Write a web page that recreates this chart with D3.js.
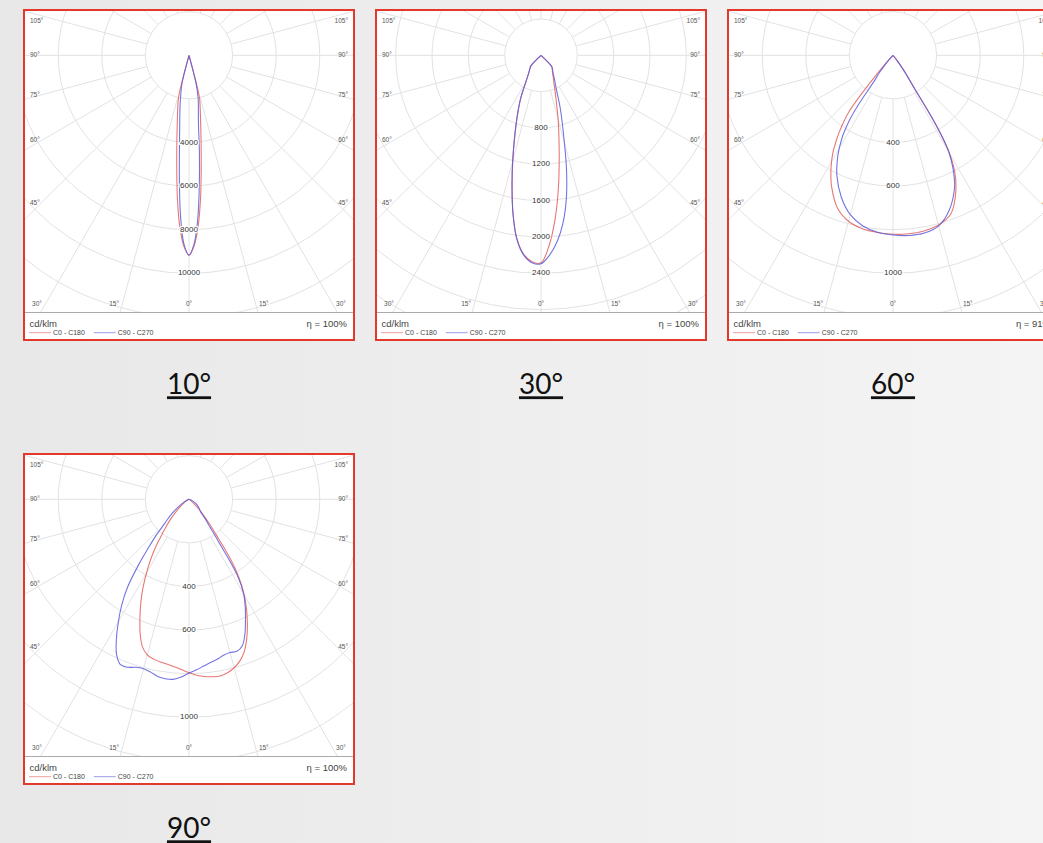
<!DOCTYPE html>
<html>
<head>
<meta charset="utf-8">
<script src="https://cdn.jsdelivr.net/npm/d3@7"></script>
<style>
  html, body { margin: 0; padding: 0; overflow: hidden; }
  body { width: 1043px; height: 843px; background: linear-gradient(to right, #e8e8e8, #f4f4f4); }
  svg { display: block; }
</style>
</head>
<body>
<svg width="1043" height="843"></svg>
<script>
// diagram titles, ring step (cd/klm) and efficiency
var titles = ["10°", "30°", "60°", "90°"];
var ringSteps = [2000, 400, 200, 200];
var efficiency = ["100%", "100%", "91%", "100%"];
var seriesNames = ["C0 - C180", "C90 - C270"];
var sideTicks = [105, 90, 75, 60, 45];
var bottomTicks = [-30, -15, 0, 15, 30];

// 10° beam : gamma angle (deg) -> intensity (cd/klm)
var gamma10 = [0, 1.5, 3, 4.5, 6, 8, 10, 12, 14, 15];
var c0_10   = [9170, 8760, 7900, 6680, 5350, 3980, 3060, 2460, 1960, 0];
var c180_10 = [9170, 8780, 7930, 6700, 5370, 4000, 3080, 2480, 1960, 0];
var c90_10  = [9170, 8680, 7580, 6020, 4590, 3110, 2480, 2020, 1330, 0];
var c270_10 = [9170, 8680, 7400, 5630, 4170, 3050, 2360, 1800, 1330, 0];

// 30° beam
var gamma30 = [0, 2.5, 5, 7.5, 10, 12.5, 15, 20, 25, 30, 35, 40, 44, 46];
var c0_30   = [2285, 2090, 1800, 1470, 1155, 910, 730, 470, 338, 266, 219, 192, 166, 0];
var c180_30 = [2285, 2275, 2197, 2035, 1772, 1470, 1200, 795, 535, 325, 232, 190, 158, 0];
var c90_30  = [2295, 2200, 2055, 1860, 1605, 1300, 995, 620, 390, 292, 230, 195, 168, 0];
var c270_30 = [2295, 2285, 2205, 2040, 1775, 1475, 1205, 800, 538, 328, 234, 190, 158, 0];

// 60° beam
var gamma60 = [0, 5, 10, 15, 20, 25, 28, 30, 31, 32, 33, 34, 35, 36, 38, 40, 42, 44];
var c0_60   = [821, 822, 818, 806, 775, 683, 602, 515, 444, 334, 176, 131, 102, 74, 35, 10, 0, 0];
var c180_60 = [821, 816, 808, 788, 745, 666, 607, 564, 541, 517, 488, 459, 429, 397, 326, 156, 45, 0];
var c90_60  = [824, 830, 828, 810, 755, 668, 585, 512, 444, 334, 176, 131, 102, 74, 35, 10, 0, 0];
var c270_60 = [824, 815, 795, 757, 693, 609, 544, 494, 464, 435, 395, 351, 277, 148, 102, 60, 25, 0];

// 90° beam
var gamma90 = [0, 2.5, 5, 7.5, 10, 12.5, 15, 17.5, 20, 22.5, 25, 27.5, 30, 32.5, 35, 37.5, 40, 42.5, 45, 50, 55, 60, 70, 90];
var c0_90   = [795, 808, 816, 821, 823, 815, 800, 777, 742, 692, 634, 572, 507, 428, 322, 203, 142, 96, 69, 25, 12, 6, 2, 0];
var c180_90 = [795, 782, 771, 763, 758, 751, 739, 710, 655, 588, 523, 457, 389, 327, 266, 205, 163, 128, 96, 51, 25, 12, 3, 0];
var c90_90  = [797, 783, 768, 755, 745, 733, 728, 731, 715, 670, 613, 559, 501, 411, 231, 149, 114, 78, 71, 58, 45, 31, 10, 0];
var c270_90 = [797, 816, 829, 830, 825, 812, 805, 808, 820, 821, 786, 721, 648, 574, 490, 382, 287, 220, 161, 104, 55, 30, 8, 0];

var diagrams = [
  {gamma: gamma10, c0: c0_10, c180: c180_10, c90: c90_10, c270: c270_10},
  {gamma: gamma30, c0: c0_30, c180: c180_30, c90: c90_30, c270: c270_30},
  {gamma: gamma60, c0: c0_60, c180: c180_60, c90: c90_60, c270: c270_60},
  {gamma: gamma90, c0: c0_90, c180: c180_90, c90: c90_90, c270: c270_90}
];

var svg = d3.select("svg");
var colRed = "#e2605c", colBlue = "#5c5cdc";
var rad = Math.PI / 180;
var smallFont = "'Liberation Sans', Arial, sans-serif";

// one half of a curve, stops at the first zero (the origin)
function half(gamma, vals, sign) {
  var pts = [];
  for (var k = 0; k < gamma.length; k++) {
    pts.push({a: Math.PI - sign * gamma[k] * rad, v: vals[k]});
    if (vals[k] === 0) break;
  }
  return pts;
}

diagrams.forEach(function(d, i) {
  var px = 24 + (i % 3) * 352, py = 10 + Math.floor(i / 3) * 444;
  var cx = px + 165, cy = py + 45.3;
  var axisY = py + 302.5;
  var step = ringSteps[i];
  var maxV = d3.max([].concat(d.c0, d.c180, d.c90, d.c270));
  var nRings = Math.ceil(maxV / step);
  var r = d3.scaleLinear().domain([0, nRings * step]).range([0, 218]);

  var g = svg.append("g");

  g.append("rect")
    .attr("x", px).attr("y", py)
    .attr("width", 330).attr("height", 330)
    .attr("fill", "#fff");

  g.append("clipPath").attr("id", "clip" + i)
    .append("rect")
      .attr("x", px + 1).attr("y", py + 1)
      .attr("width", 328).attr("height", axisY - py - 1);

  var plot = g.append("g").attr("clip-path", "url(#clip" + i + ")");

  // rings
  plot.selectAll("circle")
    .data(d3.range(1, nRings + 5).map(function(k) { return k * step; }))
    .enter().append("circle")
      .attr("cx", cx).attr("cy", cy)
      .attr("r", function(v) { return r(v); })
      .attr("fill", "none")
      .attr("stroke", "#e2e2e2")
      .attr("stroke-width", 1);

  // spokes every 15°
  plot.selectAll("line.spoke")
    .data(d3.range(0, 360, 15))
    .enter().append("line")
      .attr("class", "spoke")
      .attr("x1", function(a) { return cx + r(step) * Math.sin(a * rad); })
      .attr("y1", function(a) { return cy + r(step) * Math.cos(a * rad); })
      .attr("x2", function(a) { return cx + 600 * Math.sin(a * rad); })
      .attr("y2", function(a) { return cy + 600 * Math.cos(a * rad); })
      .attr("stroke", "#e2e2e2")
      .attr("stroke-width", 1);

  // curves
  var line = d3.lineRadial()
    .angle(function(p) { return p.a; })
    .radius(function(p) { return r(p.v); })
    .curve(d3.curveCatmullRom.alpha(0.5));

  var curves = [
    {left: d.c180, right: d.c0, color: colRed},
    {left: d.c270, right: d.c90, color: colBlue}
  ];
  curves.forEach(function(c) {
    var pts = half(d.gamma, c.left, -1).reverse()
      .concat(half(d.gamma, c.right, 1).slice(1));
    plot.append("path")
      .attr("transform", "translate(" + cx + "," + cy + ")")
      .attr("d", line(pts))
      .attr("fill", "none")
      .attr("stroke", c.color)
      .attr("stroke-opacity", 0.85)
      .attr("stroke-width", 1.1);
  });

  // ring labels along 0°, hidden where the curve sits on them
  var tips = [r(d.c0[0]), r(d.c90[0])];
  var labelled = d3.range(2, nRings + 5).map(function(k) { return k * step; })
    .filter(function(v) {
      return r(v) < axisY - cy - 8 &&
        tips.every(function(t) { return Math.abs(t - r(v)) > 8; });
    });
  g.selectAll("text.ring")
    .data(labelled)
    .enter().append("text")
      .attr("class", "ring")
      .attr("x", cx).attr("y", function(v) { return cy + r(v); })
      .attr("text-anchor", "middle")
      .attr("dominant-baseline", "middle")
      .style("font", "8px " + smallFont)
      .style("fill", "#333")
      .style("stroke", "#fff").style("stroke-width", 2.5)
      .style("paint-order", "stroke")
      .text(function(v) { return v; });

  // side angle labels
  function sideY(a) {
    var y = cy + 0.93 * 159 / Math.tan(a * rad);
    return Math.max(y, py + 11.3);
  }
  [{x: px + 6, anchor: "start"}, {x: px + 324, anchor: "end"}].forEach(function(s) {
    g.selectAll(null)
      .data(sideTicks)
      .enter().append("text")
        .attr("x", s.x).attr("y", sideY)
        .attr("text-anchor", s.anchor)
        .attr("dominant-baseline", "middle")
        .style("font", "6.5px " + smallFont)
        .style("fill", "#555")
        .text(function(a) { return a + "°"; });
  });

  // bottom angle labels
  var labelRow = py + 294.7;
  g.selectAll(null)
    .data(bottomTicks)
    .enter().append("text")
      .attr("x", function(a) {
        var dx = (labelRow - cy) * Math.tan(Math.abs(a) * rad) + (a === 0 ? 0 : 8);
        return cx + (a < 0 ? -dx : dx);
      })
      .attr("y", labelRow)
      .attr("text-anchor", "middle")
      .attr("dominant-baseline", "middle")
      .style("font", "6.5px " + smallFont)
      .style("fill", "#555")
      .text(function(a) { return Math.abs(a) + "°"; });

  // axis line under the plot
  g.append("line")
    .attr("x1", px).attr("x2", px + 330)
    .attr("y1", axisY).attr("y2", axisY)
    .attr("stroke", "#aaa").attr("stroke-width", 1);

  // legend
  g.append("text")
    .attr("x", px + 5.5).attr("y", py + 316.5)
    .style("font", "9.5px " + smallFont).style("fill", "#444")
    .text("cd/klm");
  g.append("text")
    .attr("x", px + 323).attr("y", py + 316.5)
    .attr("text-anchor", "end")
    .style("font", "9.5px " + smallFont).style("fill", "#444")
    .text("η = " + efficiency[i]);

  [colRed, colBlue].forEach(function(col, k) {
    var lx = px + 5 + k * 64.7;
    g.append("line")
      .attr("x1", lx).attr("x2", lx + 22)
      .attr("y1", py + 322.7).attr("y2", py + 322.7)
      .attr("stroke", col).attr("stroke-opacity", 0.6).attr("stroke-width", 1);
    g.append("text")
      .attr("x", lx + 24).attr("y", py + 325.3)
      .style("font", "7px " + smallFont).style("fill", "#444")
      .text(seriesNames[k]);
  });

  // panel frame
  g.append("rect")
    .attr("x", px).attr("y", py)
    .attr("width", 330).attr("height", 330)
    .attr("fill", "none")
    .attr("stroke", "#e3392c")
    .attr("stroke-width", 2);

  // caption
  g.append("text")
    .attr("x", px + 165).attr("y", py + 384.3)
    .attr("text-anchor", "middle")
    .style("font", "28px Lato, 'Open Sans', sans-serif")
    .style("fill", "#111")
    .style("text-decoration", "underline")
    .text(titles[i]);
});
</script>
</body>
</html>
